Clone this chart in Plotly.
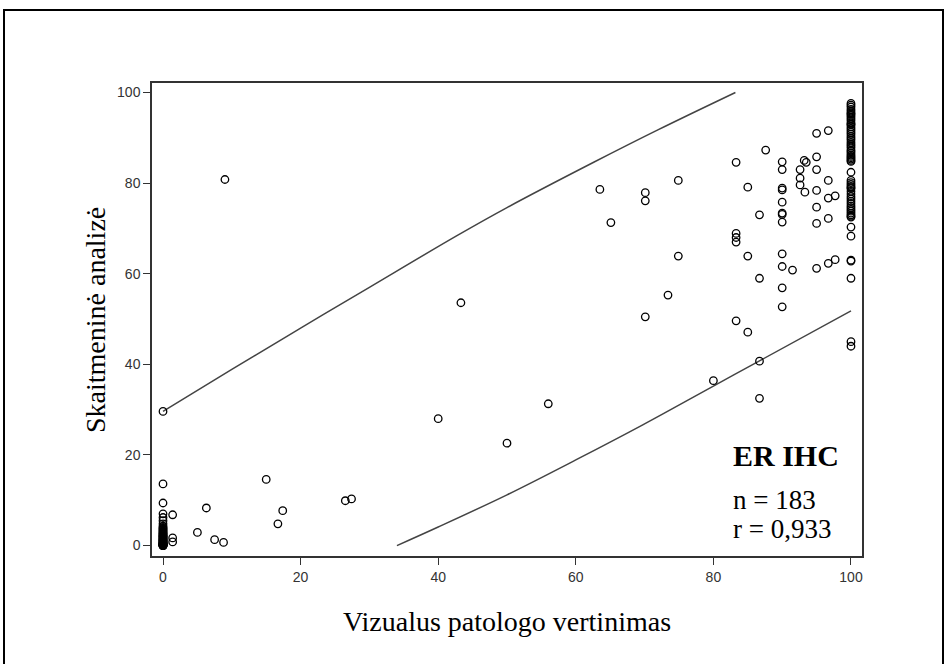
import plotly.graph_objects as go

# ---- data ----
# scattered points (visual estimate x, digital analysis y)
low_x = [0, 0, 0, 0, 1.4, 0, 1.4, 1.4, 5.0, 6.3, 7.5, 8.8, 9.0, 15.0, 16.7, 17.4, 26.5, 27.4,
         40.0, 43.3, 50.0, 56.0]
low_y = [29.6, 13.6, 9.4, 7.0, 6.8, 4.8, 1.7, 0.8, 2.9, 8.3, 1.3, 0.7, 80.8, 14.6, 4.8, 7.7, 9.9, 10.3,
         28.0, 53.6, 22.6, 31.3]

mid_x = [63.5, 65.1, 70.1, 70.1, 70.1, 73.4, 74.9, 74.9, 80.0, 83.3, 83.3, 83.3, 83.3, 83.3,
         85.0, 85.0, 85.0, 86.7, 86.7, 86.7, 86.7, 87.6]
mid_y = [78.6, 71.3, 77.9, 76.1, 50.5, 55.3, 80.6, 63.9, 36.4, 84.6, 68.9, 68.0, 67.0, 49.6,
         79.1, 63.9, 47.1, 73.0, 59.0, 40.7, 32.5, 87.3]

high_x = [90, 90, 90, 90, 90, 90, 90, 90, 90, 90, 90, 90,
          91.5, 92.6, 92.6, 92.6, 93.2, 93.5, 93.3,
          95, 96.7, 95, 95, 95, 95, 95, 96.7, 96.7, 97.7, 96.7, 95, 96.7, 97.7]
high_y = [84.7, 83.0, 78.9, 78.5, 75.8, 73.4, 73.1, 71.4, 64.4, 61.6, 56.9, 52.7,
          60.8, 83.0, 81.1, 79.6, 85.0, 84.6, 78.0,
          91.0, 91.6, 85.8, 83.0, 78.4, 74.7, 71.1, 80.6, 76.7, 77.2, 72.2, 61.2, 62.3, 63.1]

# dense column at visual = 0
zero_y = [4.3, 4.0, 3.8, 3.6, 3.4, 3.2, 3.0, 2.8, 2.7, 2.5, 2.4, 2.2, 2.1, 2.0, 1.9,
          1.8, 1.6, 1.5, 1.4, 1.3, 1.2, 1.1, 1.0, 0.9, 0.8, 0.7, 0.6, 0.5, 0.5, 0.4,
          0.4, 0.3, 0.3, 0.2, 0.2, 0.1, 0.1, 0.0, 0.0, 0.0, 0.0, 5.5, 6.2]

# dense column at visual = 100
hundred_y = [97.6, 97.2, 96.8, 96.3, 95.9, 95.5, 95.0, 94.6, 94.2, 93.8, 93.3, 92.9,
             92.4, 92.0, 91.6, 91.2, 90.8, 90.3, 89.9, 89.5, 89.0, 88.6, 88.2, 87.8,
             87.3, 87.0, 86.6, 86.2, 85.9, 85.6, 85.3, 85.0, 84.8, 95.3, 93.0,
             80.6, 80.1, 79.7, 79.3, 78.8, 78.2, 77.6, 77.0, 76.5, 76.0, 75.5, 75.0,
             74.6, 74.2, 73.8, 73.4, 73.0, 72.7, 72.5, 79.0,
             82.4, 70.3, 68.3, 63.0, 62.8, 59.0, 45.0, 44.0]

# prediction band curves
upper_x = [0, 10, 20, 30, 42.6, 50, 62.6, 72, 83.2]
upper_y = [29.6, 38.9, 48.0, 57.0, 68.3, 74.6, 84.6, 91.8, 100.0]
lower_x = [34.0, 40, 50, 60, 69.8, 80, 86.5, 100]
lower_y = [0.0, 4.1, 11.2, 18.9, 26.7, 35.2, 40.6, 51.8]

tick_vals = [0, 20, 40, 60, 80, 100]
tick_text = ["0", "20", "40", "60", "80", "100"]

x_all = low_x + mid_x + high_x + [0] * len(zero_y) + [100] * len(hundred_y)
y_all = low_y + mid_y + high_y + zero_y + hundred_y

fig = go.Figure()
fig.add_trace(go.Scatter(x=upper_x, y=upper_y, mode="lines", line=dict(color="#444", width=1.5, shape="spline"),
                         hoverinfo="skip", showlegend=False))
fig.add_trace(go.Scatter(x=lower_x, y=lower_y, mode="lines", line=dict(color="#444", width=1.5, shape="spline"),
                         hoverinfo="skip", showlegend=False))
fig.add_trace(go.Scatter(x=x_all, y=y_all, mode="markers",
                         marker=dict(symbol="circle-open", size=7.5, color="black", line=dict(width=1.3)),
                         showlegend=False))

# target page-pixel plot box: left 152, right 862, top 83, bottom 556
W, H = 946, 664
L, T = 152, 83
pw, ph = 710, 473
R = W - L - pw
B = H - T - ph

axis_common = dict(showgrid=False, zeroline=False, showline=True, linecolor="#333", linewidth=1.5,
                   mirror=True, ticks="outside", ticklen=7, tickwidth=1, tickcolor="#333",
                   tickvals=tick_vals, ticktext=tick_text,
                   tickfont=dict(family="Liberation Sans, Arial, sans-serif", size=14, color="#333"))

fig.update_layout(
    width=W, height=H,
    margin=dict(l=L, r=R, t=T, b=B),
    paper_bgcolor="white", plot_bgcolor="white",
    xaxis=dict(range=[-1.6, 101.6], **axis_common),
    yaxis=dict(range=[-2.3, 102.1], **axis_common),
    font=dict(family="Liberation Serif, Times New Roman, serif", color="black"),
)

def px(xp):
    return (xp - L) / pw

def py(yp):
    return (T + ph - yp) / ph

fig.add_annotation(text="Vizualus patologo vertinimas", xref="paper", yref="paper",
                   x=px(507), y=py(621), xanchor="center", yanchor="middle", showarrow=False,
                   font=dict(family="Liberation Serif, serif", size=28, color="black"))
fig.add_annotation(text="Skaitmeninė analizė", xref="paper", yref="paper",
                   x=px(95), y=py(320), xanchor="center", yanchor="middle", showarrow=False,
                   textangle=-90, font=dict(family="Liberation Serif, serif", size=28, color="black"))
fig.add_annotation(text="<b>ER IHC</b>", xref="paper", yref="paper",
                   x=px(731), y=py(455), xanchor="left", yanchor="middle", showarrow=False,
                   font=dict(family="Liberation Serif, serif", size=30, color="black"))
fig.add_annotation(text="n = 183", xref="paper", yref="paper",
                   x=px(731), y=py(500), xanchor="left", yanchor="middle", showarrow=False,
                   font=dict(family="Liberation Serif, serif", size=27, color="black"))
fig.add_annotation(text="r = 0,933", xref="paper", yref="paper",
                   x=px(731), y=py(529), xanchor="left", yanchor="middle", showarrow=False,
                   font=dict(family="Liberation Serif, serif", size=27, color="black"))

# outer frame
fig.add_shape(type="rect", xref="paper", yref="paper",
              x0=px(4), x1=px(943), y0=py(680), y1=py(10),
              line=dict(color="black", width=2), fillcolor="rgba(0,0,0,0)", layer="below")

fig.write_html("out.html",
               config={"displayModeBar": False},
               post_script="document.body.style.margin='0';document.body.style.overflow='hidden';")
